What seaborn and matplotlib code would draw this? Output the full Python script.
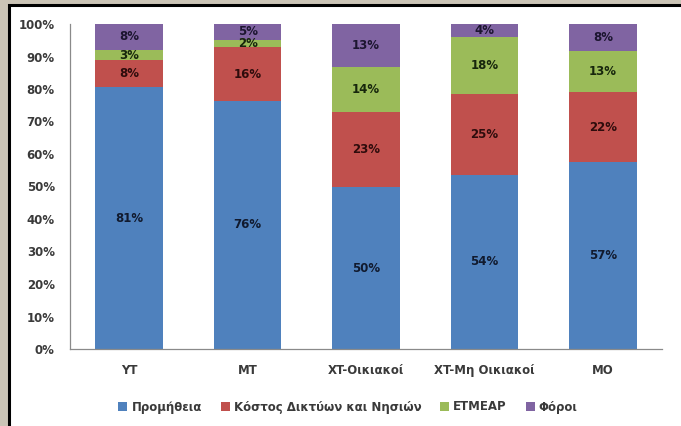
import numpy as np
import pandas as pd
import matplotlib
matplotlib.use("Agg")
import matplotlib.pyplot as plt
from matplotlib.patches import Rectangle, Patch
from matplotlib.lines import Line2D
import seaborn as sns

# Price breakdown per customer category (% of the final bill)
categories = ["YT", "MT", "XT-Οικιακοί", "XT-Μη Οικιακοί", "MO"]
supply = [80.6, 76.4, 49.8, 53.6, 57.4]     # Προμήθεια
network = [8.2, 16.4, 23.0, 24.8, 21.6]     # Κόστος Δικτύων και Νησιών
etmear = [3.2, 2.3, 14.1, 17.7, 12.6]       # ETMEAP
taxes = [8.0, 4.9, 13.1, 3.9, 8.4]          # Φόροι

series_names = ["Προμήθεια", "Κόστος Δικτύων και Νησιών", "ETMEAP", "Φόροι"]
series_colors = ["#4F81BD", "#C0504D", "#9BBB59", "#8064A2"]
label_colors = ["#111a2e", "#2e0c0c", "#17260c", "#1c1530"]
y_ticks = list(range(0, 101, 10))

sns.set_style("white")
plt.rcParams["font.family"] = ["DejaVu Sans"]

W, H = 681, 426
fig = plt.figure(figsize=(W / 100, H / 100), dpi=100)
fig.patch.set_facecolor("#cbc4b6")

# white panel with a dark frame on the top and left edges
x0, y0 = 8.7 / W, 1 - 5.3 / H
fig.patches.append(Rectangle((x0, 0), 1 - x0, y0, transform=fig.transFigure,
                             facecolor="white", edgecolor="none", zorder=-2))
fig.lines.append(Line2D([x0, x0, 1], [0, y0, y0], transform=fig.transFigure,
                        color="black", linewidth=2.2, solid_joinstyle="miter",
                        zorder=-1))

ax = fig.add_axes([70 / W, 1 - 349 / H, 592 / W, 325 / H])
ax.set_facecolor("white")

values = np.array([supply, network, etmear, taxes])
tops = np.cumsum(values, axis=0)

# stacked bars: draw cumulative totals from the top segment down
for i in reversed(range(len(series_names))):
    sns.barplot(x=categories, y=tops[i], order=categories, color=series_colors[i],
                saturation=1, width=0.57, linewidth=0, ax=ax)

for i in range(len(series_names)):
    for j in range(len(categories)):
        v = values[i, j]
        ax.text(j, tops[i, j] - v / 2, f"{v:.0f}%", ha="center", va="center",
                fontsize=8.5, fontweight="bold", color=label_colors[i])

ax.set_xlim(-0.5, len(categories) - 0.5)
ax.set_ylim(0, 100)
ax.set_yticks(y_ticks)
ax.set_yticklabels([f"{t}%" for t in y_ticks])
ax.set_xlabel("")
ax.set_ylabel("")
ax.tick_params(axis="both", length=0, labelsize=8.5, labelcolor="#3a3a3a")
ax.tick_params(axis="x", pad=11)
ax.tick_params(axis="y", pad=11)
for lab in ax.get_xticklabels() + ax.get_yticklabels():
    lab.set_fontweight("bold")

for side in ("top", "right"):
    ax.spines[side].set_visible(False)
for side in ("left", "bottom"):
    ax.spines[side].set_color("#8a8a8a")
    ax.spines[side].set_linewidth(0.9)

handles = [Patch(facecolor=c, edgecolor="none") for c in series_colors]
leg = fig.legend(handles, series_names, loc="center",
                 bbox_to_anchor=(348 / W, 1 - 407 / H), ncol=4, frameon=False,
                 handlelength=0.75, handleheight=0.75, handletextpad=0.35,
                 columnspacing=1.6, prop={"size": 8.5, "weight": "bold"})
for t in leg.get_texts():
    t.set_color("#3a3a3a")

fig.savefig("out.png", dpi=100, facecolor=fig.get_facecolor())
